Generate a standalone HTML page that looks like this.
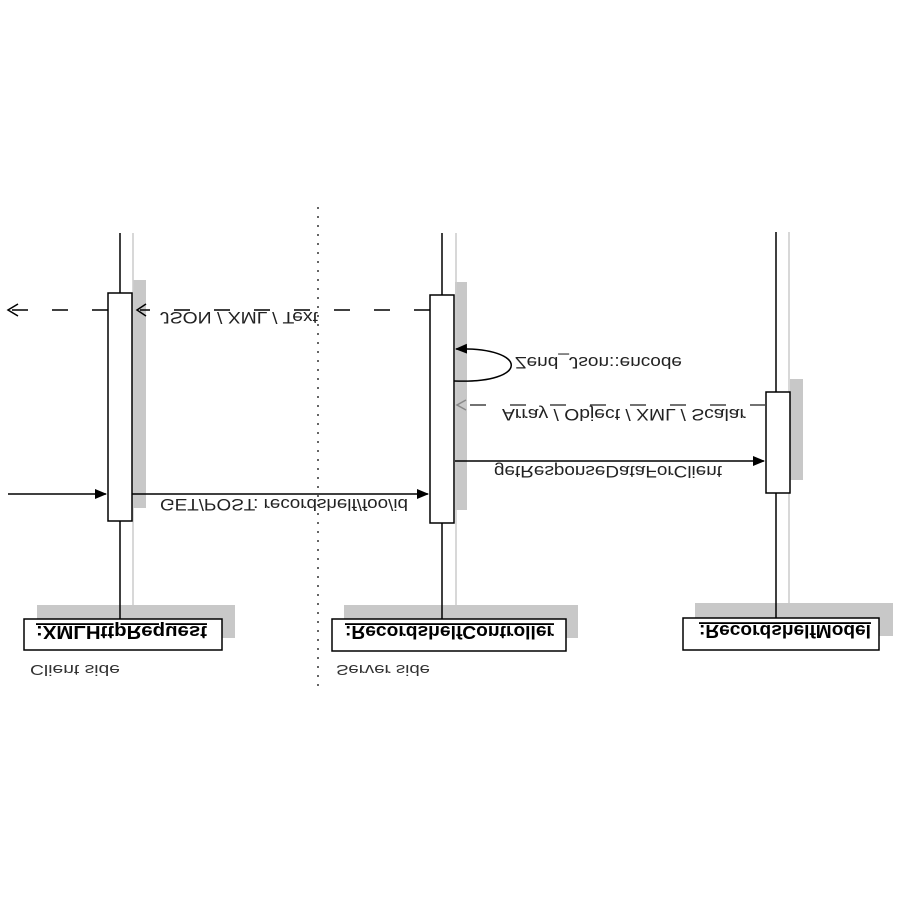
<!DOCTYPE html>
<html><head><meta charset="utf-8"><style>html,body{margin:0;padding:0;background:#fff}svg{display:block}</style></head>
<body>
<svg width="900" height="900" viewBox="0 0 900 900" xmlns="http://www.w3.org/2000/svg" font-family="Liberation Sans, sans-serif">
<defs>
<marker id="fa" markerWidth="12" markerHeight="10" refX="11" refY="5" orient="auto" markerUnits="userSpaceOnUse"><path d="M0,0 L12,5 L0,10 z" fill="#000"/></marker>
</defs>
<g fill="#c8c8c8">
<rect x="133" y="280" width="13" height="228"/>
<rect x="455" y="282" width="12" height="228"/>
<rect x="790" y="379" width="13" height="101"/>
<rect x="37" y="605" width="198" height="33"/>
<rect x="344" y="605" width="234" height="33"/>
<rect x="695" y="603" width="198" height="33"/>
</g>
<g stroke="#ccc" stroke-width="1.5">
<line x1="133" y1="233" x2="133" y2="605"/>
<line x1="456" y1="233" x2="456" y2="605"/>
<line x1="789" y1="232" x2="789" y2="603"/>
</g>
<line x1="318" y1="207" x2="318" y2="688" stroke="#666" stroke-width="2" stroke-dasharray="2,7"/>
<g stroke="#000" stroke-width="1.5">
<line x1="120" y1="233" x2="120" y2="619"/>
<line x1="442" y1="233" x2="442" y2="619"/>
<line x1="776" y1="232" x2="776" y2="618"/>
</g>
<g fill="#fff" stroke="#000" stroke-width="1.5">
<rect x="108" y="293" width="24" height="228"/>
<rect x="430" y="295" width="24" height="228"/>
<rect x="766" y="392" width="24" height="101"/>
<rect x="24" y="619" width="198" height="31"/>
<rect x="332" y="619" width="234" height="32"/>
<rect x="683" y="618" width="196" height="32"/>
</g>
<g stroke="#000" stroke-width="1.5" fill="none">
<line x1="108" y1="310" x2="10" y2="310" stroke-dasharray="16,24"/>
<path d="M18,304 L8,310 L18,316"/>
<line x1="430" y1="310" x2="140" y2="310" stroke-dasharray="16,24"/>
<path d="M146,304 L137,310 L146,316"/>
<line x1="8" y1="494" x2="106" y2="494" marker-end="url(#fa)"/>
<line x1="132" y1="494" x2="428" y2="494" marker-end="url(#fa)"/>
<line x1="455" y1="461" x2="764" y2="461" marker-end="url(#fa)"/>
<path d="M454,381 C530,384 530,347 456,349" marker-end="url(#fa)"/>
<line x1="766" y1="405" x2="460" y2="405" stroke-dasharray="16,24" stroke="#444"/>
<path d="M466,400 L457,405 L466,410" stroke="#888"/>
</g>
<g font-size="17" fill="#222" lengthAdjust="spacingAndGlyphs">
<text transform="translate(160,312) scale(1,-1)" textLength="158" lengthAdjust="spacingAndGlyphs">JSON / XML / Text</text>
<text transform="translate(160,499) scale(1,-1)" textLength="248" lengthAdjust="spacingAndGlyphs">GET/POST: recordshelf/foo/id</text>
<text transform="translate(515,357) scale(1,-1)" textLength="167" lengthAdjust="spacingAndGlyphs">Zend_Json::encode</text>
<text transform="translate(502,409) scale(1,-1)" textLength="244" lengthAdjust="spacingAndGlyphs">Array / Object / XML / Scalar</text>
<text transform="translate(494,466) scale(1,-1)" textLength="228" lengthAdjust="spacingAndGlyphs">getResponseDataForClient</text>
</g>
<g font-size="18" font-weight="bold" fill="#000">
<text transform="translate(36,626) scale(1,-1)" text-decoration="underline" textLength="171" lengthAdjust="spacingAndGlyphs">:XMLHttpRequest</text>
<text transform="translate(345,626) scale(1,-1)" text-decoration="underline" textLength="209" lengthAdjust="spacingAndGlyphs">:RecordshelfController</text>
<text transform="translate(699,625) scale(1,-1)" text-decoration="underline" textLength="172" lengthAdjust="spacingAndGlyphs">:RecordshelfModel</text>
</g>
<g font-size="15" fill="#333">
<text transform="translate(30,665) scale(1,-1)" textLength="90" lengthAdjust="spacingAndGlyphs">Client side</text>
<text transform="translate(336,665) scale(1,-1)" textLength="94" lengthAdjust="spacingAndGlyphs">Server side</text>
</g>
</svg>
</body></html>
